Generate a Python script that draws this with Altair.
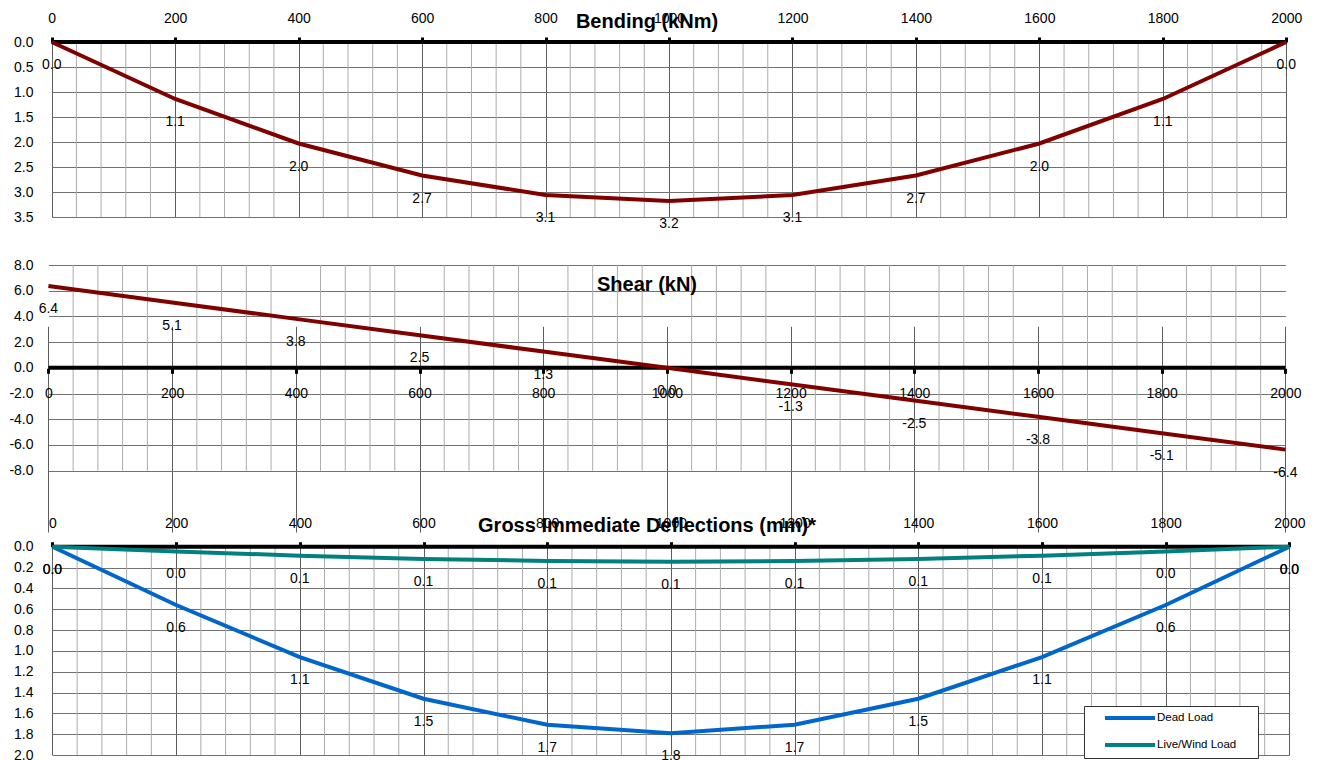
import altair as alt
import pandas as pd

# ---------------- data ----------------
positions = [0, 200, 400, 600, 800, 1000, 1200, 1400, 1600, 1800, 2000]
bending = [0.00, 1.14, 2.03, 2.67, 3.06, 3.18, 3.06, 2.67, 2.03, 1.14, 0.00]
shear = [6.36, 5.08, 3.81, 2.54, 1.27, 0.00, -1.27, -2.54, -3.81, -5.08, -6.36]
dead_load = [0.00, 0.56, 1.06, 1.46, 1.71, 1.79, 1.71, 1.46, 1.06, 0.56, 0.00]
live_load = [0.000, 0.045, 0.086, 0.117, 0.137, 0.144, 0.137, 0.117, 0.086, 0.045, 0.000]
series_names = ["Dead Load", "Live/Wind Load"]
series_colors = ["#0066CC", "#008080"]

bending_ticks = [0.0, 0.5, 1.0, 1.5, 2.0, 2.5, 3.0, 3.5]
shear_ticks = [-8.0, -6.0, -4.0, -2.0, 0.0, 2.0, 4.0, 6.0, 8.0]
defl_ticks = [0.0, 0.2, 0.4, 0.6, 0.8, 1.0, 1.2, 1.4, 1.6, 1.8, 2.0]
minor_x = [v for v in range(0, 2001, 40) if v % 200 != 0]
titles = ["Bending (kNm)", "Shear (kN)", "Gross Immediate Deflections (mm)*"]

FONT = "Liberation Sans"
MAJOR = "#5e5e5e"
HGRID = "#727272"
MINOR = "#ababab"


def fmt(v):
    s = f"{v:.1f}"
    return "0.0" if s == "-0.0" else s


def frame(values, name):
    return pd.DataFrame({
        "pos": positions, "val": values, "series": name,
        "lab": [fmt(v) for v in values],
    })


def panel(frames, xr, ydom, yr, yticks, xorient, xoffset, xlabpad, title, title_y,
          ylabel_expr=None, colored=False):
    def xs():
        return alt.Scale(domain=[0, 2000], range=xr, nice=False, zero=False)

    def ys():
        return alt.Scale(domain=ydom, range=yr, nice=False, zero=False)

    y0, y1 = min(ydom), max(ydom)

    minor = alt.Chart(pd.DataFrame({"gx": minor_x, "ya": y0, "yb": y1})).mark_rule(
        color=MINOR, strokeWidth=1
    ).encode(
        x=alt.X("gx:Q", scale=xs(), axis=None),
        y=alt.Y("ya:Q", scale=ys(), axis=None),
        y2="yb:Q",
    )

    zero = alt.Chart(pd.DataFrame({"xa": [0], "xb": [2000], "z": [0.0]})).mark_rule(
        color="black", strokeWidth=4
    ).encode(
        x=alt.X("xa:Q", scale=xs(), axis=None),
        x2="xb:Q",
        y=alt.Y("z:Q", scale=ys(), axis=None),
    )

    yaxis_kw = dict(
        orient="left", values=yticks, domain=False, ticks=False, labelPadding=15,
        grid=True, gridColor=HGRID, gridWidth=1, title=None,
        labelFont=FONT, labelFontSize=14, labelColor="black",
    )
    if ylabel_expr:
        yaxis_kw["labelExpr"] = ylabel_expr
    else:
        yaxis_kw["format"] = ".1f"

    xaxis = alt.Axis(
        orient=xorient, offset=xoffset, values=positions, domain=False,
        ticks=True, tickSize=5, tickWidth=3, tickColor="black",
        labelPadding=xlabpad, labelFont=FONT, labelFontSize=14, labelColor="black",
        labelFlush=False, labelOverlap=False, grid=True, gridColor=MAJOR, gridWidth=1,
        title=None, format="d",
    )

    data = pd.concat(frames, ignore_index=True)
    if colored:
        line = alt.Chart(data).mark_line(strokeWidth=4).encode(
            x=alt.X("pos:Q", scale=xs(), axis=xaxis),
            y=alt.Y("val:Q", scale=ys(), axis=alt.Axis(**yaxis_kw)),
            color=alt.Color(
                "series:N",
                scale=alt.Scale(domain=series_names, range=series_colors),
                legend=alt.Legend(
                    title="---", titleOrient="right", titleColor="white",
                    titleFontSize=11, titlePadding=4,
                    orient="none", legendX=1036, legendY=664,
                    symbolType="stroke", symbolSize=2500, symbolStrokeWidth=4,
                    clipHeight=10, rowPadding=15, padding=7, symbolOffset=12,
                    labelOffset=0, strokeColor="#333333", fillColor="white",
                    labelFont=FONT, labelFontSize=11.5, labelColor="black",
                ),
            ),
            detail="series:N",
        )
    else:
        line = alt.Chart(data).mark_line(strokeWidth=4, color="#800000").encode(
            x=alt.X("pos:Q", scale=xs(), axis=xaxis),
            y=alt.Y("val:Q", scale=ys(), axis=alt.Axis(**yaxis_kw)),
            detail="series:N",
        )

    labels = alt.Chart(data).mark_text(
        dy=23, font=FONT, fontSize=14, color="black", align="center", baseline="middle"
    ).encode(
        x=alt.X("pos:Q", scale=xs(), axis=None),
        y=alt.Y("val:Q", scale=ys(), axis=None),
        text="lab:N",
    )

    head = alt.Chart(pd.DataFrame({"t": [title]})).mark_text(
        font=FONT, fontSize=20, fontWeight="bold", color="black",
        align="center", baseline="middle",
    ).encode(x=alt.value(599), y=alt.value(title_y), text="t:N")

    return [minor, zero, line, labels, head]


layers = []
layers += panel([frame(bending, "Bending")], [3.7, 1238.3], [0, 3.5], [0, 175],
                bending_ticks, "top", 0, 12, titles[0], -20)
layers += panel([frame(shear, "Shear")], [0.4, 1237.4], [-8, 8], [428.7, 223],
                shear_ticks, "bottom", -386.7, 13, titles[1], 243,
                ylabel_expr="(datum.value < 0 ? '-' : '') + format(abs(datum.value), '.1f')")
layers += panel([frame(dead_load, series_names[0]), frame(live_load, series_names[1])],
                [4.4, 1241.4], [0, 2], [504.7, 713], defl_ticks, "top", -504.7, 11,
                titles[2], 484, colored=True)

chart = alt.layer(*layers).resolve_scale(
    x="independent", y="independent"
).properties(
    width=1242, height=713,
    padding={"left": 40, "top": 34, "right": 20, "bottom": 20},
    autosize=alt.AutoSizeParams(type="none"),
).configure_view(stroke=None)

chart.save("out.html", embed_options={"renderer": "svg", "actions": False})
